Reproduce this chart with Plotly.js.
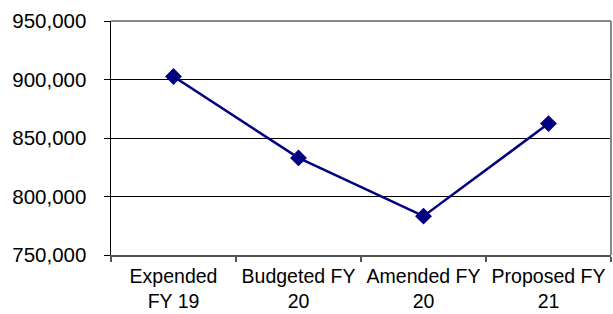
<!DOCTYPE html>
<html>
<head>
<meta charset="utf-8">
<script src="https://cdn.plot.ly/plotly-3.0.1.min.js"></script>
<style>html,body{margin:0;padding:0;background:#fff;}#chart{width:613px;height:314px;}</style>
</head>
<body>
<div id="chart"></div>
<script>
const categories = ["Expended<br>FY 19", "Budgeted FY<br>20", "Amended FY<br>20", "Proposed FY<br>21"];
const values = [902600, 833000, 783200, 862300];
const yTickVals = [750000, 800000, 850000, 900000, 950000];

const trace = {
  x: categories,
  y: values,
  type: "scatter",
  mode: "lines+markers",
  line: {color: "#000080", width: 2.5},
  marker: {symbol: "diamond", size: 13, color: "#000080"},
  hoverinfo: "none"
};

const layout = {
  width: 613,
  height: 314,
  margin: {l: 111, r: 2, t: 21, b: 59, pad: 0},
  paper_bgcolor: "#ffffff",
  plot_bgcolor: "#ffffff",
  showlegend: false,
  font: {family: "Liberation Sans, Arial, sans-serif", size: 20, color: "#000"},
  xaxis: {
    type: "category",
    range: [-0.5, 3.5],
    tickson: "boundaries",
    tickangle: 0,
    automargin: false,
    ticks: "outside",
    ticklen: 5,
    tickcolor: "#555",
    tickwidth: 1.5,
    showline: true,
    linecolor: "#555",
    linewidth: 1.5,
    showgrid: false,
    zeroline: false,
    ticklabelstandoff: 3,
    tickfont: {size: 19.5, color: "#000"},
    fixedrange: true
  },
  yaxis: {
    range: [750000, 950000],
    tickvals: yTickVals,
    tickformat: ",",
    ticks: "outside",
    ticklen: 6,
    tickcolor: "#000",
    showline: true,
    linecolor: "#000",
    linewidth: 1.5,
    showgrid: true,
    gridcolor: "#000",
    gridwidth: 1,
    zeroline: false,
    ticklabelstandoff: 13,
    tickfont: {size: 20.5, color: "#000"},
    fixedrange: true
  },
  shapes: [
    {type: "line", xref: "paper", yref: "paper", x0: 0, x1: 1, y0: 1, y1: 1, line: {color: "#888", width: 2}},
    {type: "line", xref: "paper", yref: "paper", x0: 1, x1: 1, y0: 0, y1: 1, line: {color: "#888", width: 2}}
  ]
};

Plotly.newPlot("chart", [trace], layout, {displayModeBar: false, staticPlot: true});
</script>
</body>
</html>
